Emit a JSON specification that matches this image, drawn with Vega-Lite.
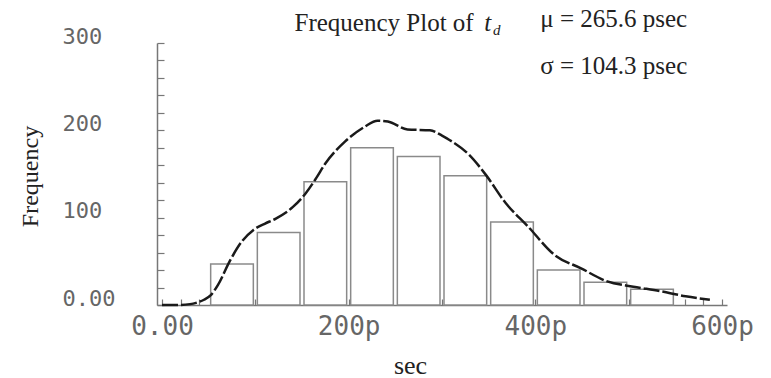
{
  "$schema": "https://vega.github.io/schema/vega-lite/v6.json",
  "width": 570,
  "height": 262,
  "autosize": "none",
  "padding": {"left": 157, "top": 43, "right": 44, "bottom": 73},
  "background": "white",
  "config": {"view": {"stroke": null}},
  "datasets": {
    "bars": [
      {"bin_start": 50, "bin_end": 100, "count": 47},
      {"bin_start": 100, "bin_end": 150, "count": 83},
      {"bin_start": 150, "bin_end": 200, "count": 141},
      {"bin_start": 200, "bin_end": 250, "count": 180},
      {"bin_start": 250, "bin_end": 300, "count": 170},
      {"bin_start": 300, "bin_end": 350, "count": 148},
      {"bin_start": 350, "bin_end": 400, "count": 95},
      {"bin_start": 400, "bin_end": 450, "count": 40},
      {"bin_start": 450, "bin_end": 500, "count": 26},
      {"bin_start": 500, "bin_end": 550, "count": 18}
    ],
    "curve": [
      {"t": 0, "f": 0}, {"t": 15, "f": 0}, {"t": 30, "f": 1}, {"t": 38, "f": 3},
      {"t": 45, "f": 6}, {"t": 52, "f": 11}, {"t": 60, "f": 23}, {"t": 73, "f": 51},
      {"t": 85, "f": 72}, {"t": 98, "f": 86}, {"t": 110, "f": 93}, {"t": 122, "f": 99},
      {"t": 140, "f": 112}, {"t": 154, "f": 128}, {"t": 165, "f": 145}, {"t": 175, "f": 162},
      {"t": 196, "f": 187}, {"t": 217, "f": 204}, {"t": 231, "f": 211}, {"t": 242, "f": 210},
      {"t": 263, "f": 201}, {"t": 287, "f": 200}, {"t": 300, "f": 194}, {"t": 308, "f": 189},
      {"t": 329, "f": 172}, {"t": 347, "f": 149}, {"t": 368, "f": 117}, {"t": 392, "f": 90},
      {"t": 421, "f": 57}, {"t": 449, "f": 42}, {"t": 477, "f": 27}, {"t": 505, "f": 21},
      {"t": 533, "f": 16}, {"t": 561, "f": 10}, {"t": 587, "f": 6}
    ]
  },
  "layer": [
    {
      "data": {"name": "bars"},
      "mark": {"type": "bar", "orient": "vertical", "fill": "white", "stroke": "#8a8a8a", "strokeWidth": 1.5, "xOffset": 2, "x2Offset": -2},
      "encoding": {
        "x": {
          "field": "bin_start", "type": "quantitative",
          "scale": {"domain": [0, 600], "nice": false, "zero": false},
          "axis": {
            "title": "sec",
            "values": [0,20,40,60,80,100,120,140,160,180,200,220,240,260,280,300,320,340,360,380,400,420,440,460,480,500,520,540,560,580,600],
            "tickCount": 100,
            "labelExpr": "datum.value == 0 ? '0.00' : (datum.value % 200 == 0 ? datum.value + 'p' : '')",
            "grid": false,
            "domainColor": "#777", "domainWidth": 1.5,
            "tickColor": "#777", "tickWidth": 1.2, "tickSize": -6,
            "labelPadding": 14, "labelFont": "DejaVu Sans Mono", "labelFontSize": 26,
            "labelColor": "#666", "labelBaseline": "top", "labelAlign": "center",
            "labelOverlap": false, "labelFlush": false,
            "titleFont": "Liberation Serif", "titleFontSize": 26, "titleFontWeight": "normal",
            "titleColor": "#222", "titleX": 253, "titleY": 68, "titleBaseline": "alphabetic", "titleAlign": "center"
          }
        },
        "x2": {"field": "bin_end"},
        "y": {
          "field": "count", "type": "quantitative",
          "scale": {"domain": [0, 300], "nice": false},
          "axis": {
            "title": "Frequency",
            "values": [0,20,40,60,80,100,120,140,160,180,200,220,240,260,280,300],
            "tickCount": 100,
            "labelExpr": "datum.value == 0 ? '0.00' : (datum.value % 100 == 0 ? '' + datum.value : '')",
            "grid": false,
            "domainColor": "#777", "domainWidth": 1.5,
            "tickColor": "#777", "tickWidth": 1.2, "tickSize": -7,
            "labelPadding": 102, "labelFont": "DejaVu Sans Mono", "labelFontSize": 22,
            "labelColor": "#666", "labelBaseline": "alphabetic", "labelAlign": "left",
            "labelOverlap": false, "labelFlush": false,
            "titleFont": "Liberation Serif", "titleFontSize": 24, "titleFontWeight": "normal",
            "titleColor": "#222", "titleAngle": -90, "titleX": -126.5, "titleY": 133,
            "titleBaseline": "middle", "titleAlign": "center"
          }
        },
        "y2": {"datum": 0}
      }
    },
    {
      "data": {"name": "curve"},
      "mark": {"type": "line", "interpolate": "monotone", "color": "#1a1a1a", "strokeWidth": 2.5, "strokeDash": [16, 3]},
      "encoding": {
        "x": {"field": "t", "type": "quantitative"},
        "y": {"field": "f", "type": "quantitative"}
      }
    },
    {
      "data": {"values": [{"label": "Frequency Plot of"}]},
      "mark": {"type": "text", "align": "left", "baseline": "alphabetic", "font": "Liberation Serif", "fontSize": 25, "color": "#222"},
      "encoding": {
        "x": {"datum": 142, "type": "quantitative"},
        "y": {"datum": 314.3, "type": "quantitative"},
        "text": {"field": "label"}
      }
    },
    {
      "data": {"values": [{"label": "t"}]},
      "mark": {"type": "text", "align": "left", "baseline": "alphabetic", "font": "Liberation Serif", "fontSize": 25, "fontStyle": "italic", "color": "#222"},
      "encoding": {
        "x": {"datum": 345.3, "type": "quantitative"},
        "y": {"datum": 314.3, "type": "quantitative"},
        "text": {"field": "label"}
      }
    },
    {
      "data": {"values": [{"label": "d"}]},
      "mark": {"type": "text", "align": "left", "baseline": "alphabetic", "font": "Liberation Serif", "fontSize": 15, "fontStyle": "italic", "color": "#222"},
      "encoding": {
        "x": {"datum": 354.7, "type": "quantitative"},
        "y": {"datum": 309.2, "type": "quantitative"},
        "text": {"field": "label"}
      }
    },
    {
      "data": {"values": [{"label": "μ = 265.6 psec"}]},
      "mark": {"type": "text", "align": "left", "baseline": "alphabetic", "font": "Liberation Serif", "fontSize": 25, "color": "#222"},
      "encoding": {
        "x": {"datum": 405.3, "type": "quantitative"},
        "y": {"datum": 317.8, "type": "quantitative"},
        "text": {"field": "label"}
      }
    },
    {
      "data": {"values": [{"label": "σ = 104.3 psec"}]},
      "mark": {"type": "text", "align": "left", "baseline": "alphabetic", "font": "Liberation Serif", "fontSize": 25, "color": "#222"},
      "encoding": {
        "x": {"datum": 405.3, "type": "quantitative"},
        "y": {"datum": 264.5, "type": "quantitative"},
        "text": {"field": "label"}
      }
    }
  ]
}
